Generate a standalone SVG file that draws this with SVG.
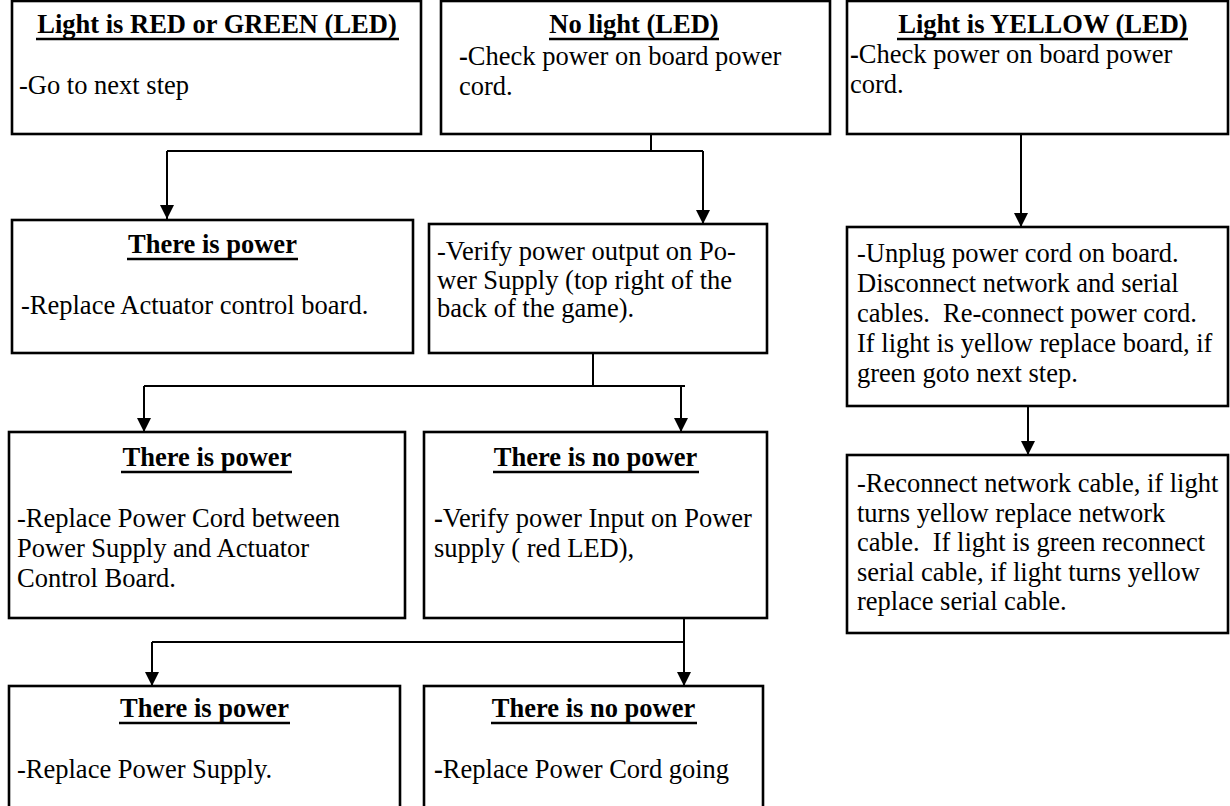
<svg xmlns="http://www.w3.org/2000/svg" width="1230" height="806" viewBox="0 0 1230 806">
<style>
.box{fill:#fff;stroke:#000;stroke-width:2.6}
.t{font-family:"Liberation Serif","Times New Roman",serif;font-size:26.5px;fill:#000}
.h{font-family:"Liberation Serif","Times New Roman",serif;font-size:26.5px;font-weight:bold;fill:#000;text-anchor:middle}
.b{font-weight:bold}
.ul{stroke:#000;stroke-width:2.4}
.ln{fill:none;stroke:#000;stroke-width:2}
</style>
<defs>
<marker id="ah" markerWidth="14" markerHeight="14" refX="14" refY="7" orient="auto" markerUnits="userSpaceOnUse">
<path d="M0,0 L14,7 L0,14 Z" fill="#000"/>
</marker>
</defs>
<rect width="1230" height="806" fill="#fff"/>
<g id="connectors">
<path class="ln" d="M651,134 V151"/>
<path class="ln" d="M167,151 H703"/>
<path class="ln" d="M167,151 V219" marker-end="url(#ah)"/>
<path class="ln" d="M703,151 V224" marker-end="url(#ah)"/>
<path class="ln" d="M1021,134 V227" marker-end="url(#ah)"/>
<path class="ln" d="M593,353 V386"/>
<path class="ln" d="M144,386 H685"/>
<path class="ln" d="M144,386 V432" marker-end="url(#ah)"/>
<path class="ln" d="M681,385 V432" marker-end="url(#ah)"/>
<path class="ln" d="M1028,406 V455" marker-end="url(#ah)"/>
<path class="ln" d="M152,642 H684"/>
<path class="ln" d="M684,618 V686" marker-end="url(#ah)"/>
<path class="ln" d="M152,642 V686" marker-end="url(#ah)"/>
</g>
<g id="n1">
<rect class="box" x="12" y="1" width="409" height="133"/>
<text class="h" x="217" y="33">Light is RED or GREEN (LED)</text>
<line class="ul" x1="36" y1="39" x2="399" y2="39"/>
<text class="t" x="19" y="94">-Go to next step</text>
</g>
<g id="n2">
<rect class="box" x="441" y="1" width="389" height="133"/>
<text class="h" x="634" y="33">No light (LED)</text>
<line class="ul" x1="549" y1="39" x2="719" y2="39"/>
<text class="t" x="459" y="65"><tspan class="b">-</tspan>Check power on board power</text>
<text class="t" x="459" y="95">cord.</text>
</g>
<g id="n3">
<rect class="box" x="847" y="1" width="381" height="133"/>
<text class="h" x="1043" y="33">Light is YELLOW (LED)</text>
<line class="ul" x1="897" y1="39" x2="1188" y2="39"/>
<text class="t" x="850" y="63"><tspan class="b">-</tspan>Check power on board power</text>
<text class="t" x="850" y="93">cord.</text>
</g>
<g id="n4">
<rect class="box" x="12" y="220" width="401" height="133"/>
<text class="h" x="212.5" y="253">There is power</text>
<line class="ul" x1="127" y1="259" x2="298" y2="259"/>
<text class="t" x="21" y="314">-Replace Actuator control board.</text>
</g>
<g id="n5">
<rect class="box" x="429" y="224" width="338" height="129"/>
<text class="t" x="437" y="260">-Verify power output on Po-</text>
<text class="t" x="437" y="288.5">wer Supply (top right of the</text>
<text class="t" x="437" y="317">back of the game).</text>
</g>
<g id="n6">
<rect class="box" x="847" y="227" width="381" height="179"/>
<text class="t" x="857" y="262">-Unplug power cord on board.</text>
<text class="t" x="857" y="292">Disconnect network and serial</text>
<text class="t" x="857" y="322" xml:space="preserve">cables.  Re-connect power cord.</text>
<text class="t" x="857" y="352">If light is yellow replace board, if</text>
<text class="t" x="857" y="382">green goto next step.</text>
</g>
<g id="n7">
<rect class="box" x="9" y="432" width="396" height="186"/>
<text class="h" x="207" y="466">There is power</text>
<line class="ul" x1="121" y1="472" x2="292" y2="472"/>
<text class="t" x="17" y="527">-Replace Power Cord between</text>
<text class="t" x="17" y="557">Power Supply and Actuator</text>
<text class="t" x="17" y="587">Control Board.</text>
</g>
<g id="n8">
<rect class="box" x="424" y="432" width="343" height="186"/>
<text class="h" x="595.5" y="466">There is no power</text>
<line class="ul" x1="493" y1="472" x2="699" y2="472"/>
<text class="t" x="434" y="527"><tspan class="b">-</tspan>Verify power Input on Power</text>
<text class="t" x="434" y="557">supply ( red LED),</text>
</g>
<g id="n9">
<rect class="box" x="847" y="455" width="381" height="178"/>
<text class="t" x="857" y="492">-Reconnect network cable, if light</text>
<text class="t" x="857" y="521.5">turns yellow replace network</text>
<text class="t" x="857" y="551" xml:space="preserve">cable.  If light is green reconnect</text>
<text class="t" x="857" y="580.5">serial cable, if light turns yellow</text>
<text class="t" x="857" y="610">replace serial cable.</text>
</g>
<g id="n10">
<rect class="box" x="9" y="686" width="391" height="140"/>
<text class="h" x="204.5" y="717">There is power</text>
<line class="ul" x1="119" y1="723" x2="290" y2="723"/>
<text class="t" x="17" y="778">-Replace Power Supply.</text>
</g>
<g id="n11">
<rect class="box" x="424" y="686" width="339" height="140"/>
<text class="h" x="593.5" y="717">There is no power</text>
<line class="ul" x1="491" y1="723" x2="697" y2="723"/>
<text class="t" x="434" y="778"><tspan class="b">-</tspan>Replace Power Cord going</text>
</g>
</svg>
